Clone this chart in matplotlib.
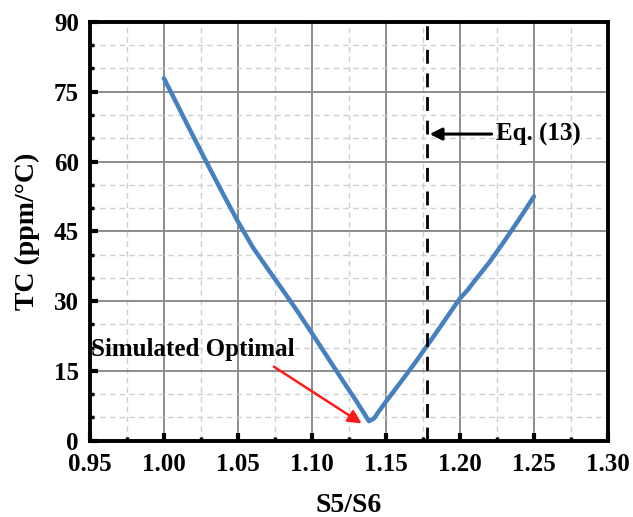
import numpy as np
import matplotlib.pyplot as plt
from matplotlib.ticker import MultipleLocator

# S5/S6 ratio vs TC
ratio = [1.00, 1.01, 1.02, 1.03, 1.04, 1.05, 1.06, 1.07, 1.08, 1.09,
         1.10, 1.11, 1.12, 1.13, 1.135, 1.1385, 1.142, 1.145, 1.15, 1.16,
         1.17, 1.18, 1.19, 1.20, 1.205, 1.21, 1.22, 1.23, 1.24, 1.25]
tc = [77.9, 71.6, 65.3, 59.1, 53.0, 47.1, 41.6, 37.0, 32.5, 27.9,
      23.1, 18.2, 13.3, 8.5, 6.0, 4.2, 4.8, 6.2, 8.4, 12.6,
      16.9, 21.4, 26.0, 30.6, 32.3, 34.4, 38.4, 42.9, 47.6, 52.5]

eq13_x = 1.1775
opt_text = 'Simulated Optimal'
eq_text = 'Eq. (13)'

plt.rcParams['font.family'] = ['Liberation Serif', 'DejaVu Serif']
plt.rcParams['font.weight'] = 'bold'

fig = plt.figure(figsize=(6.33, 5.17), dpi=100)
ax = fig.add_axes([0.142, 0.1476, 0.8185, 0.81])

ax.set_xlim(0.95, 1.30)
ax.set_ylim(0, 90)
ax.xaxis.set_major_locator(MultipleLocator(0.05))
ax.xaxis.set_minor_locator(MultipleLocator(0.025))
ax.yaxis.set_major_locator(MultipleLocator(15))
ax.yaxis.set_minor_locator(MultipleLocator(5))

ax.grid(which='major', color='#8c8c8c', linewidth=1.4, linestyle='-')
ax.grid(which='minor', color='#cfcfcf', linewidth=1.0, linestyle=(0, (4, 3)))
ax.set_axisbelow(True)

for s in ax.spines.values():
    s.set_linewidth(2.8)
    s.set_color('black')

ax.tick_params(which='major', direction='in', length=6, width=3, labelsize=18,
               top=False, right=False)
ax.tick_params(axis='x', which='major', pad=9)
ax.tick_params(axis='y', which='major', pad=8)
ax.tick_params(which='minor', direction='in', length=3, width=2.5,
               top=False, right=False)
ax.set_xticklabels(['%.2f' % v for v in ax.get_xticks()])
ax.set_yticklabels(['%d' % v for v in ax.get_yticks()])
for lab in ax.get_xticklabels() + ax.get_yticklabels():
    lab.set_fontweight('bold')

ax.plot(ratio, tc, color='#4681bf', linewidth=3.2, solid_joinstyle='round',
        solid_capstyle='round', zorder=3)

ax.axvline(eq13_x, color='black', linewidth=2.0, linestyle=(0, (5, 3.5)), zorder=3)

ax.annotate('', xy=(1.1336, 3.7), xytext=(1.0743, 15.9),
            arrowprops=dict(arrowstyle='-|>', color='#ff1a1a', lw=1.8,
                            mutation_scale=20, shrinkA=0, shrinkB=0))
ax.text(0.9505, 19.7, opt_text, fontsize=18, fontweight='bold', ha='left', va='center')

ax.annotate('', xy=(1.1795, 65.9), xytext=(1.2214, 65.9),
            arrowprops=dict(arrowstyle='-|>', color='black', lw=2.2,
                            mutation_scale=18, shrinkA=0, shrinkB=0))
ax.text(1.2245, 65.9, eq_text, fontsize=18, fontweight='bold', ha='left', va='center')

ax.set_xlabel('S5/S6', fontsize=20, fontweight='bold', labelpad=12)
ax.set_ylabel('TC (ppm/°C)', fontsize=20, fontweight='bold', labelpad=10)

fig.savefig('out.png', dpi=100)
